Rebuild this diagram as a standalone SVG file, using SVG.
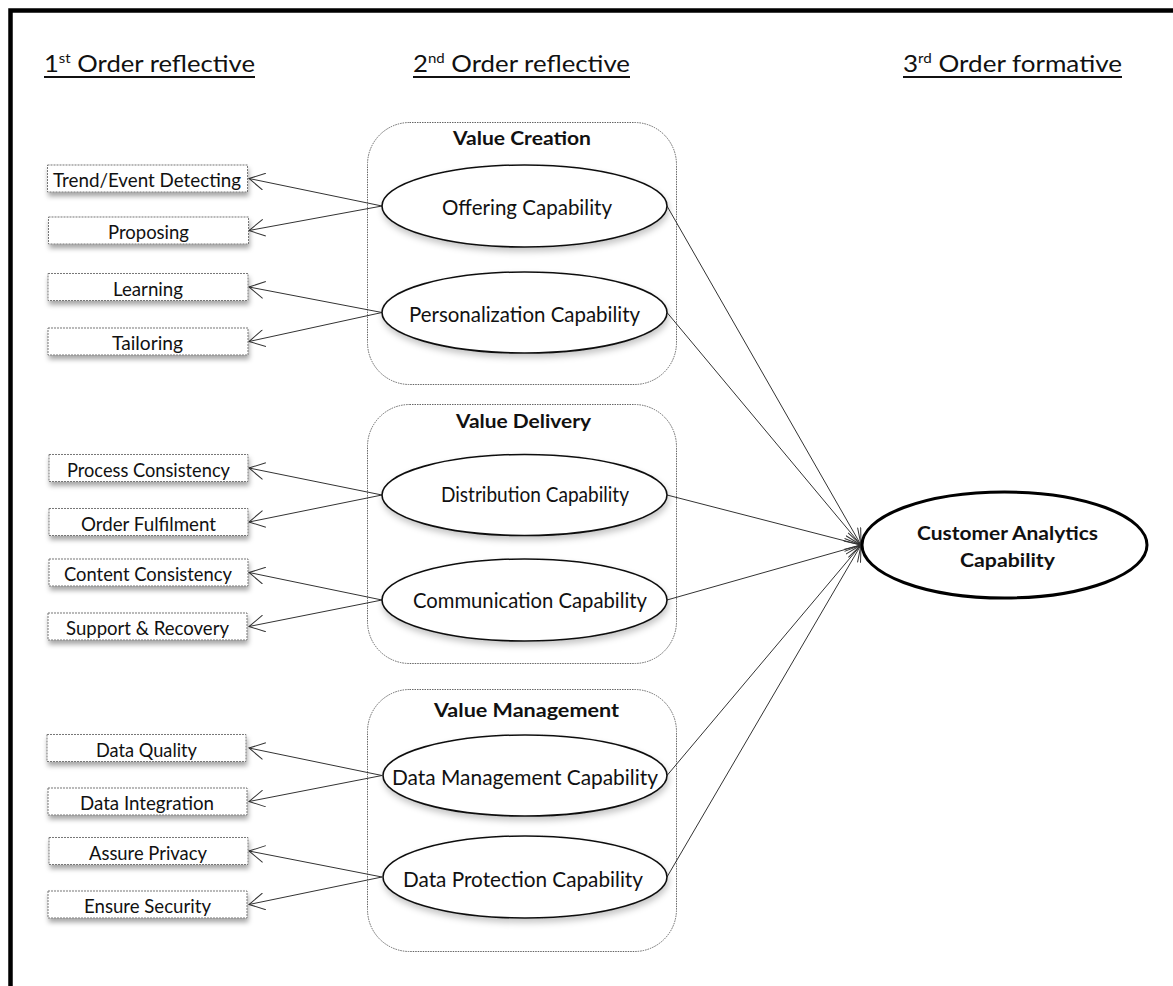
<svg xmlns="http://www.w3.org/2000/svg" width="1173" height="986" viewBox="0 0 1173 986">
<style>
  text { font-family: "Lato", "Liberation Sans", sans-serif; fill: #111; }
  .hd { font-size: 24px; }
  .sup { font-size: 14px; }
  .lbl { font-size: 19px; text-anchor: middle; }
  .el { font-size: 20.5px; text-anchor: middle; }
  .ttl { font-size: 19px; font-weight: bold; text-anchor: middle; }
  .big { font-size: 19.5px; font-weight: bold; text-anchor: middle; }
  .box { fill: #fff; stroke: #777; stroke-width: 1; stroke-dasharray: 2 1; }
  .grp { fill: none; stroke: #666; stroke-width: 1; stroke-dasharray: 1.5 1; }
  .ell { fill: #fff; stroke: #111; stroke-width: 1.6; }
  .conn { stroke: #333; stroke-width: 1; fill: none; marker-end: url(#arr); }
  .ul { stroke: #111; stroke-width: 1.8; }
</style>
<defs>
  <marker id="arr" markerUnits="userSpaceOnUse" viewBox="0 0 17 18" refX="16" refY="9" markerWidth="17" markerHeight="18" orient="auto">
    <path d="M0.5,0.5 L16,9 L0.5,17.5" fill="none" stroke="#333" stroke-width="1"/>
  </marker>
  <filter id="sh" x="-10%" y="-30%" width="120%" height="180%">
    <feGaussianBlur in="SourceAlpha" stdDeviation="2.5"/>
    <feOffset dx="1" dy="4" result="b"/>
    <feFlood flood-color="#000" flood-opacity="0.35"/>
    <feComposite in2="b" operator="in"/>
    <feMerge><feMergeNode/><feMergeNode in="SourceGraphic"/></feMerge>
  </filter>
  <filter id="glow" x="-10%" y="-20%" width="120%" height="150%">
    <feGaussianBlur in="SourceAlpha" stdDeviation="3"/>
    <feOffset dx="1" dy="4" result="b"/>
    <feFlood flood-color="#000" flood-opacity="0.22"/>
    <feComposite in2="b" operator="in"/>
    <feMerge><feMergeNode/><feMergeNode in="SourceGraphic"/></feMerge>
  </filter>
</defs>
<rect x="0" y="0" width="1173" height="986" fill="#fff"/>
<path d="M10.5,986 V10.5 H1173" fill="none" stroke="#000" stroke-width="4.5"/>

<g id="headings">
  <text class="hd" x="44" y="72" textLength="211" lengthAdjust="spacingAndGlyphs">1<tspan class="sup" dy="-9">st</tspan><tspan dy="9"> Order reflective</tspan></text>
  <line class="ul" x1="44" y1="77" x2="255" y2="77"/>
  <text class="hd" x="413" y="72" textLength="217" lengthAdjust="spacingAndGlyphs">2<tspan class="sup" dy="-9">nd</tspan><tspan dy="9"> Order reflective</tspan></text>
  <line class="ul" x1="413" y1="77" x2="630" y2="77"/>
  <text class="hd" x="903" y="72" textLength="219" lengthAdjust="spacingAndGlyphs">3<tspan class="sup" dy="-9">rd</tspan><tspan dy="9"> Order formative</tspan></text>
  <line class="ul" x1="903" y1="77" x2="1122" y2="77"/>
</g>

<g id="groups">
  <g id="value-creation">
    <rect class="grp" x="367.5" y="122.5" width="309" height="262" rx="42"/>
    <text class="ttl" x="522" y="145" textLength="138" lengthAdjust="spacingAndGlyphs">Value Creation</text>
  </g>
  <g id="value-delivery">
    <rect class="grp" x="367.5" y="404.5" width="309" height="259" rx="42"/>
    <text class="ttl" x="523.5" y="428" textLength="135" lengthAdjust="spacingAndGlyphs">Value Delivery</text>
  </g>
  <g id="value-management">
    <rect class="grp" x="367.5" y="689.5" width="309" height="262" rx="42"/>
    <text class="ttl" x="526.5" y="717" textLength="185" lengthAdjust="spacingAndGlyphs">Value Management</text>
  </g>
</g>

<g id="connectors">
  <line class="conn" x1="382" y1="206" x2="249" y2="178.5"/>
  <line class="conn" x1="382" y1="206" x2="249" y2="230.5"/>
  <line class="conn" x1="382" y1="312.5" x2="249" y2="287"/>
  <line class="conn" x1="382" y1="312.5" x2="249" y2="341.5"/>
  <line class="conn" x1="382" y1="495" x2="249" y2="468"/>
  <line class="conn" x1="382" y1="495" x2="249" y2="522"/>
  <line class="conn" x1="382" y1="600" x2="249" y2="572.5"/>
  <line class="conn" x1="382" y1="600" x2="249" y2="626.5"/>
  <line class="conn" x1="382" y1="775.5" x2="249" y2="748"/>
  <line class="conn" x1="382" y1="775.5" x2="249" y2="801.5"/>
  <line class="conn" x1="382" y1="877" x2="249" y2="851"/>
  <line class="conn" x1="382" y1="877" x2="249" y2="904.5"/>
  <line class="conn" x1="667" y1="206" x2="861" y2="545"/>
  <line class="conn" x1="667" y1="312.5" x2="861" y2="545"/>
  <line class="conn" x1="667" y1="495" x2="861" y2="545"/>
  <line class="conn" x1="667" y1="600" x2="861" y2="545"/>
  <line class="conn" x1="667" y1="775.5" x2="861" y2="545"/>
  <line class="conn" x1="667" y1="877" x2="861" y2="545"/>
</g>

<g id="first-order">
  <g id="trend"><rect class="box" filter="url(#sh)" x="47.5" y="165" width="200" height="27"/><text class="lbl" x="147" y="187" textLength="188" lengthAdjust="spacingAndGlyphs">Trend/Event Detecting</text></g>
  <g id="proposing"><rect class="box" filter="url(#sh)" x="48.5" y="217" width="200" height="27"/><text class="lbl" x="148.5" y="239" textLength="81" lengthAdjust="spacingAndGlyphs">Proposing</text></g>
  <g id="learning"><rect class="box" filter="url(#sh)" x="48" y="273.5" width="200" height="27"/><text class="lbl" x="148" y="295.5" textLength="70" lengthAdjust="spacingAndGlyphs">Learning</text></g>
  <g id="tailoring"><rect class="box" filter="url(#sh)" x="48" y="328" width="200" height="27"/><text class="lbl" x="147.5" y="350" textLength="71" lengthAdjust="spacingAndGlyphs">Tailoring</text></g>
  <g id="process"><rect class="box" filter="url(#sh)" x="49" y="454.5" width="199" height="27"/><text class="lbl" x="148.5" y="476.5" textLength="163" lengthAdjust="spacingAndGlyphs">Process Consistency</text></g>
  <g id="order"><rect class="box" filter="url(#sh)" x="49" y="508.5" width="199" height="27"/><text class="lbl" x="148.5" y="530.5" textLength="135" lengthAdjust="spacingAndGlyphs">Order Fulfilment</text></g>
  <g id="content"><rect class="box" filter="url(#sh)" x="49" y="559" width="199" height="27"/><text class="lbl" x="148" y="581" textLength="168" lengthAdjust="spacingAndGlyphs">Content Consistency</text></g>
  <g id="support"><rect class="box" filter="url(#sh)" x="48" y="613" width="199" height="27"/><text class="lbl" x="147.5" y="635" textLength="163" lengthAdjust="spacingAndGlyphs">Support &amp; Recovery</text></g>
  <g id="quality"><rect class="box" filter="url(#sh)" x="47" y="734.5" width="199" height="27"/><text class="lbl" x="146.5" y="756.5" textLength="101" lengthAdjust="spacingAndGlyphs">Data Quality</text></g>
  <g id="integration"><rect class="box" filter="url(#sh)" x="48" y="788" width="199" height="27"/><text class="lbl" x="147" y="810" textLength="134" lengthAdjust="spacingAndGlyphs">Data Integration</text></g>
  <g id="privacy"><rect class="box" filter="url(#sh)" x="49" y="837.5" width="199" height="27"/><text class="lbl" x="148" y="859.5" textLength="118" lengthAdjust="spacingAndGlyphs">Assure Privacy</text></g>
  <g id="security"><rect class="box" filter="url(#sh)" x="48" y="891" width="199" height="27"/><text class="lbl" x="147.5" y="913" textLength="127" lengthAdjust="spacingAndGlyphs">Ensure Security</text></g>
</g>

<g id="second-order">
  <g id="offering"><ellipse class="ell" filter="url(#glow)" cx="524.5" cy="206" rx="142.5" ry="41"/><text class="el" x="527" y="215" textLength="170" lengthAdjust="spacingAndGlyphs">Offering Capability</text></g>
  <g id="personalization"><ellipse class="ell" filter="url(#glow)" cx="524.5" cy="312.5" rx="142.5" ry="40.5"/><text class="el" x="524.5" y="322" textLength="231" lengthAdjust="spacingAndGlyphs">Personalization Capability</text></g>
  <g id="distribution"><ellipse class="ell" filter="url(#glow)" cx="524.5" cy="495" rx="142.5" ry="40.5"/><text class="el" x="535" y="502" textLength="188" lengthAdjust="spacingAndGlyphs">Distribution Capability</text></g>
  <g id="communication"><ellipse class="ell" filter="url(#glow)" cx="524.5" cy="600" rx="142.5" ry="41"/><text class="el" x="530" y="608" textLength="234" lengthAdjust="spacingAndGlyphs">Communication Capability</text></g>
  <g id="data-management"><ellipse class="ell" filter="url(#glow)" cx="525" cy="775.5" rx="142" ry="40.5"/><text class="el" x="525" y="785" textLength="266" lengthAdjust="spacingAndGlyphs">Data Management Capability</text></g>
  <g id="data-protection"><ellipse class="ell" filter="url(#glow)" cx="525" cy="877" rx="142" ry="41"/><text class="el" x="523" y="887" textLength="240" lengthAdjust="spacingAndGlyphs">Data Protection Capability</text></g>
</g>

<g id="third-order">
  <g id="customer-analytics">
    <ellipse cx="1004.5" cy="545" rx="142.5" ry="53" fill="#fff" stroke="#000" stroke-width="3"/>
    <text class="big" x="1007.5" y="540" textLength="181" lengthAdjust="spacingAndGlyphs">Customer Analytics</text>
    <text class="big" x="1007.5" y="567" textLength="95" lengthAdjust="spacingAndGlyphs">Capability</text>
  </g>
</g>
</svg>
